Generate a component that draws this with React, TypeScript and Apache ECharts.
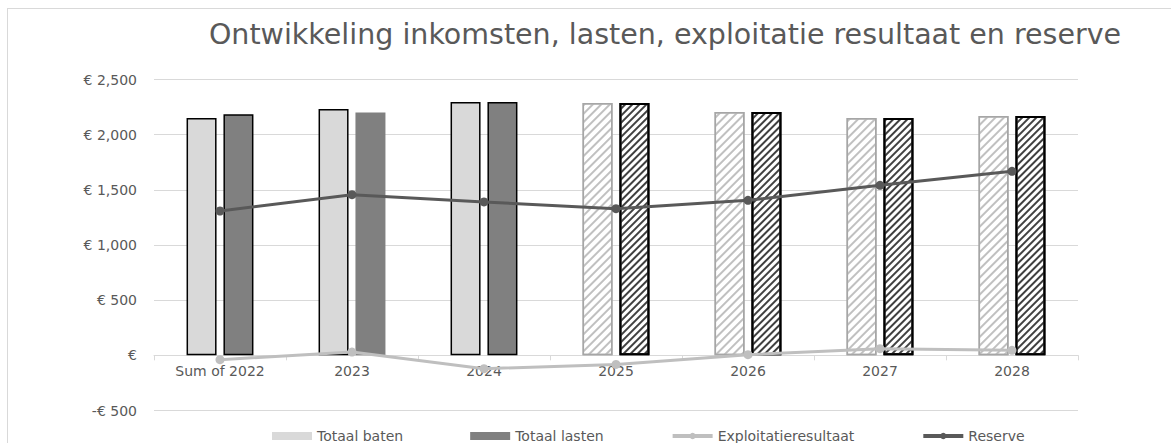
import React, { useEffect, useRef } from "react";
import * as echarts from "echarts";

const categories = ["Sum of 2022", "2023", "2024", "2025", "2026", "2027", "2028"];
const totaalBaten = [2151, 2233, 2296, 2287, 2206, 2151, 2170];
const totaalLasten = [2185, 2200, 2296, 2287, 2206, 2151, 2170];
const exploitatieresultaat = [-39, 30, -121, -82, 6, 60, 45];
const reserve = [1308, 1456, 1390, 1329, 1405, 1541, 1668];
const forecastFrom = 3; // index from which values are projections (hatched)
const yTicks = { min: -500, max: 2500, interval: 500 };

const FONT = "'DejaVu Sans', sans-serif";
const TXT = "#595959";
const PLOT_H = 331;

function fmtEuro(v: number): string {
  if (v === 0) return "€";
  const s = Math.abs(v).toLocaleString("en-US");
  return v < 0 ? "-€ " + s : "€ " + s;
}

export default function App() {
  const ref = useRef<HTMLDivElement>(null);
  useEffect(() => {
    if (!ref.current) return;
    const chart = echarts.init(ref.current, undefined, { renderer: "svg" });

    const batenData = totaalBaten.map((v, i) =>
      i < forecastFrom
        ? { value: v, itemStyle: { color: "#d9d9d9", borderColor: "#000", borderWidth: 1.5 } }
        : {
            value: v,
            itemStyle: {
              color: "#ffffff",
              borderColor: "#a6a6a6",
              borderWidth: 1.5,
              decal: {
                symbol: "rect",
                dashArrayX: [1, 0],
                dashArrayY: [2, 4],
                rotation: -Math.PI / 4,
                color: "#c0c0c0",
                symbolSize: 1,
              },
            },
          }
    );
    const lastenData = totaalLasten.map((v, i) =>
      i < forecastFrom
        ? {
            value: v,
            itemStyle:
              i === 1
                ? { color: "#808080", borderWidth: 0 }
                : { color: "#808080", borderColor: "#000", borderWidth: 1.5 },
          }
        : {
            value: v,
            itemStyle: {
              color: "#ffffff",
              borderColor: "#000",
              borderWidth: 2,
              decal: {
                symbol: "rect",
                dashArrayX: [1, 0],
                dashArrayY: [2, 3],
                rotation: -Math.PI / 4,
                color: "#404040",
                symbolSize: 1,
              },
            },
          }
    );

    // distance (px) from the bottom of the plot (-500) up to the zero line
    const zeroOffset = ((0 - yTicks.min) / (yTicks.max - yTicks.min)) * PLOT_H;

    chart.setOption({
      animation: false,
      textStyle: { fontFamily: FONT },
      graphic: [
        {
          type: "text",
          x: 665,
          y: 34,
          style: {
            text: "Ontwikkeling inkomsten, lasten, exploitatie resultaat en reserve",
            fill: TXT,
            font: "28.5px " + FONT,
            align: "center",
            verticalAlign: "middle",
          },
        },
      ],
      grid: { left: 154, top: 79.5, width: 924, height: PLOT_H, containLabel: false },
      legend: {
        left: 267,
        top: 424,
        itemGap: 67,
        itemWidth: 40,
        itemHeight: 8,
        textStyle: { color: TXT, fontSize: 14, fontFamily: FONT },
        data: [
          { name: "Totaal baten", icon: "rect", itemStyle: { color: "#d9d9d9", borderWidth: 0, decal: "none" } },
          { name: "Totaal lasten", icon: "rect", itemStyle: { color: "#808080", borderWidth: 0, decal: "none" } },
          { name: "Exploitatieresultaat", lineStyle: { width: 4 } },
          { name: "Reserve", lineStyle: { width: 4 } },
        ],
      },
      xAxis: {
        type: "category",
        data: categories,
        position: "bottom",
        offset: -zeroOffset,
        axisLine: { onZero: false, lineStyle: { color: "#d9d9d9", width: 1 } },
        axisTick: { show: true, length: 5, lineStyle: { color: "#d9d9d9" } },
        axisLabel: { color: TXT, fontSize: 14, fontFamily: FONT, margin: 9 },
        splitLine: { show: false },
      },
      yAxis: {
        type: "value",
        min: yTicks.min,
        max: yTicks.max,
        interval: yTicks.interval,
        axisLine: { show: false },
        axisTick: { show: false },
        axisLabel: { color: TXT, fontSize: 14, fontFamily: FONT, margin: 17, formatter: fmtEuro },
        splitLine: { lineStyle: { color: "#d9d9d9", width: 1 } },
      },
      series: [
        {
          name: "Totaal baten",
          type: "bar",
          barWidth: 30,
          barGap: "23%",
          itemStyle: { color: "#d9d9d9" },
          data: batenData,
        },
        {
          name: "Totaal lasten",
          type: "bar",
          barWidth: 30,
          barGap: "23%",
          itemStyle: { color: "#808080" },
          data: lastenData,
        },
        {
          name: "Exploitatieresultaat",
          type: "line",
          data: exploitatieresultaat,
          symbol: "circle",
          symbolSize: 9,
          lineStyle: { color: "#bfbfbf", width: 3 },
          itemStyle: { color: "#bfbfbf" },
          z: 5,
        },
        {
          name: "Reserve",
          type: "line",
          data: reserve,
          symbol: "circle",
          symbolSize: 9,
          lineStyle: { color: "#595959", width: 3 },
          itemStyle: { color: "#595959" },
          z: 5,
        },
      ],
    });
    return () => chart.dispose();
  }, []);

  return (
    <div style={{ position: "absolute", left: 0, top: 0, width: 1171, height: 443, overflow: "hidden" }}>
      <div
        style={{
          position: "absolute",
          left: 7,
          top: 8,
          width: 1170,
          height: 440,
          borderTop: "1px solid #d9d9d9",
          borderLeft: "1px solid #d9d9d9",
          boxSizing: "border-box",
        }}
      />
      <div ref={ref} style={{ position: "absolute", left: 0, top: 0, width: 1171, height: 443 }} />
    </div>
  );
}
